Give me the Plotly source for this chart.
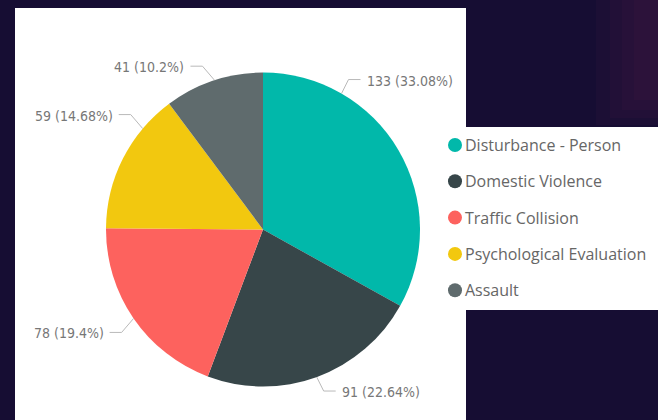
import math
import plotly.graph_objects as go

# ---- data ----
categories = ["Disturbance - Person", "Domestic Violence", "Traffic Collision",
              "Psychological Evaluation", "Assault"]
counts = [133, 91, 78, 59, 41]
colors = ["#01B8AA", "#374649", "#FD625E", "#F2C80F", "#5F6B6D"]

# ---- layout constants (pixels) ----
W, H = 658, 420
CX, CY, R = 263, 229.5, 157
BG = "#160d33"
# leader-line anchor angle on the pie edge (degrees clockwise from 12 o'clock)
LABEL_ANGLES = [30, 160, 235.5, 310, 342]
LABEL_FONT = "DejaVu Sans Condensed, Liberation Sans Narrow, Roboto, sans-serif"
LEGEND_FONT = "Open Sans, Noto Sans, sans-serif"


def px(x):
    return x / W


def py(y):
    return 1 - y / H


total = sum(counts)
label_texts = []
for c in counts:
    pct = c / total * 100
    s = f"{pct:.2f}".rstrip("0").rstrip(".")
    label_texts.append(f"{c} ({s}%)")

fig = go.Figure()
fig.add_trace(go.Pie(
    labels=categories,
    values=counts,
    sort=False,
    direction="clockwise",
    rotation=0,
    marker=dict(colors=colors, line=dict(width=0)),
    textinfo="none",
    hoverinfo="label+value+percent",
    showlegend=False,
    domain=dict(x=[px(CX - R), px(CX + R)], y=[py(CY + R), py(CY - R)]),
))

shapes = []
annotations = []

# faint reddish glow in the top-right of the dark background
for k, (x0, yb) in enumerate([(596, 125), (610, 118), (622, 110), (634, 100)]):
    shapes.append(dict(type="rect", xref="paper", yref="paper", layer="below",
                       x0=px(x0), x1=px(658), y0=py(yb), y1=py(0),
                       fillcolor="rgba(120,40,80,0.07)", line=dict(width=0)))

# background panels
shapes.append(dict(type="rect", xref="paper", yref="paper", layer="below",
                   x0=px(15), x1=px(466), y0=py(H), y1=py(8),
                   fillcolor="white", line=dict(width=0)))
shapes.append(dict(type="rect", xref="paper", yref="paper", layer="below",
                   x0=px(437), x1=px(658), y0=py(310), y1=py(127),
                   fillcolor="white", line=dict(width=0)))

# outside labels with elbow leader lines
for i, (txt, ang) in enumerate(zip(label_texts, LABEL_ANGLES)):
    a = math.radians(ang)
    sx = CX + R * math.sin(a)
    sy = CY - R * math.cos(a)
    right = math.sin(a) >= 0
    down = math.cos(a) < 0
    ex = sx + (7 if right else -12)
    ey = sy + (14 if down else -14)
    hx = ex + (12 if right else -12)
    path = f"M {px(sx)},{py(sy)} L {px(ex)},{py(ey)} L {px(hx)},{py(ey)}"
    shapes.append(dict(type="path", xref="paper", yref="paper", path=path,
                       line=dict(color="#b9b9b9", width=1)))
    annotations.append(dict(
        xref="paper", yref="paper",
        x=px(hx + (4 if right else -4)), y=py(ey + 1),
        xanchor="left" if right else "right", yanchor="middle",
        text=txt, showarrow=False,
        font=dict(family=LABEL_FONT, size=14, color="#777777"),
    ))

# custom legend
for i, (cat, col) in enumerate(zip(categories, colors)):
    yy = 145 + i * 36.3
    shapes.append(dict(type="circle", xref="paper", yref="paper",
                       x0=px(448), x1=px(462), y0=py(yy + 7), y1=py(yy - 7),
                       fillcolor=col, line=dict(width=0)))
    annotations.append(dict(
        xref="paper", yref="paper", x=px(463), y=py(yy),
        xanchor="left", yanchor="middle", text=cat, showarrow=False,
        font=dict(family=LEGEND_FONT, size=16, color="#666666"),
    ))

fig.update_layout(
    width=W, height=H,
    margin=dict(l=0, r=0, t=0, b=0),
    paper_bgcolor=BG, plot_bgcolor=BG,
    shapes=shapes, annotations=annotations,
    showlegend=False,
)

fig.write_html("out.html")
